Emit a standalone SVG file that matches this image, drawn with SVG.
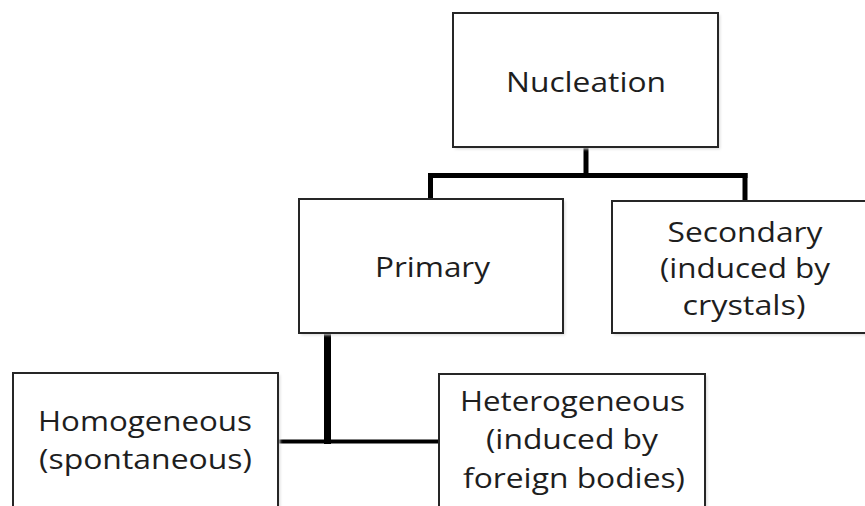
<svg xmlns="http://www.w3.org/2000/svg" width="865" height="506" viewBox="0 0 865 506">
<defs>
<style>
.box{fill:#ffffff;stroke:#262626;stroke-width:2}
.shadow{fill:#d8d8d8;filter:url(#blur)}
.lbl{font-family:"Open Sans","Noto Sans","DejaVu Sans",sans-serif;font-size:27px;fill:#1e1e1e;text-anchor:middle}
.conn{stroke:#000;fill:none;stroke-linecap:butt}
</style>
<filter id="blur" x="-10%" y="-10%" width="120%" height="120%"><feGaussianBlur stdDeviation="1.5"/></filter>
</defs>
<rect width="865" height="506" fill="#ffffff"/>
<g id="connectors">
<line class="conn" x1="586" y1="147" x2="586" y2="176" stroke-width="5"/>
<line class="conn" x1="428" y1="175.5" x2="747.5" y2="175.5" stroke-width="5"/>
<line class="conn" x1="430.5" y1="173" x2="430.5" y2="199" stroke-width="5"/>
<line class="conn" x1="745" y1="173" x2="745" y2="201" stroke-width="5"/>
<line class="conn" x1="327.5" y1="333" x2="327.5" y2="444" stroke-width="7"/>
<line class="conn" x1="278" y1="441.5" x2="439" y2="441.5" stroke-width="4"/>
</g>
<g id="nucleation">
<rect class="shadow" x="455" y="15" width="265" height="134"/>
<rect class="box" x="453" y="13" width="265" height="134"/>
<text class="lbl" x="586" y="92" textLength="160" lengthAdjust="spacingAndGlyphs">Nucleation</text>
</g>
<g id="primary">
<rect class="shadow" x="301" y="201" width="264" height="134"/>
<rect class="box" x="299" y="199" width="264" height="134"/>
<text class="lbl" x="432.5" y="277" textLength="115" lengthAdjust="spacingAndGlyphs">Primary</text>
</g>
<g id="secondary">
<rect class="shadow" x="614" y="203" width="270" height="132"/>
<rect class="box" x="612" y="201" width="270" height="132"/>
<text class="lbl" x="745" y="242" textLength="155" lengthAdjust="spacingAndGlyphs">Secondary</text>
<text class="lbl" x="745" y="278" textLength="170" lengthAdjust="spacingAndGlyphs">(induced by</text>
<text class="lbl" x="744" y="315" textLength="123" lengthAdjust="spacingAndGlyphs">crystals)</text>
</g>
<g id="homogeneous">
<rect class="shadow" x="15" y="375" width="265" height="150"/>
<rect class="box" x="13" y="373" width="265" height="150"/>
<text class="lbl" x="145" y="431" textLength="214" lengthAdjust="spacingAndGlyphs">Homogeneous</text>
<text class="lbl" x="145.5" y="469" textLength="213" lengthAdjust="spacingAndGlyphs">(spontaneous)</text>
</g>
<g id="heterogeneous">
<rect class="shadow" x="441" y="376" width="266" height="150"/>
<rect class="box" x="439" y="374" width="266" height="150"/>
<text class="lbl" x="572.5" y="411" textLength="225" lengthAdjust="spacingAndGlyphs">Heterogeneous</text>
<text class="lbl" x="572" y="449" textLength="172" lengthAdjust="spacingAndGlyphs">(induced by</text>
<text class="lbl" x="574" y="488" textLength="222" lengthAdjust="spacingAndGlyphs">foreign bodies)</text>
</g>
</svg>
